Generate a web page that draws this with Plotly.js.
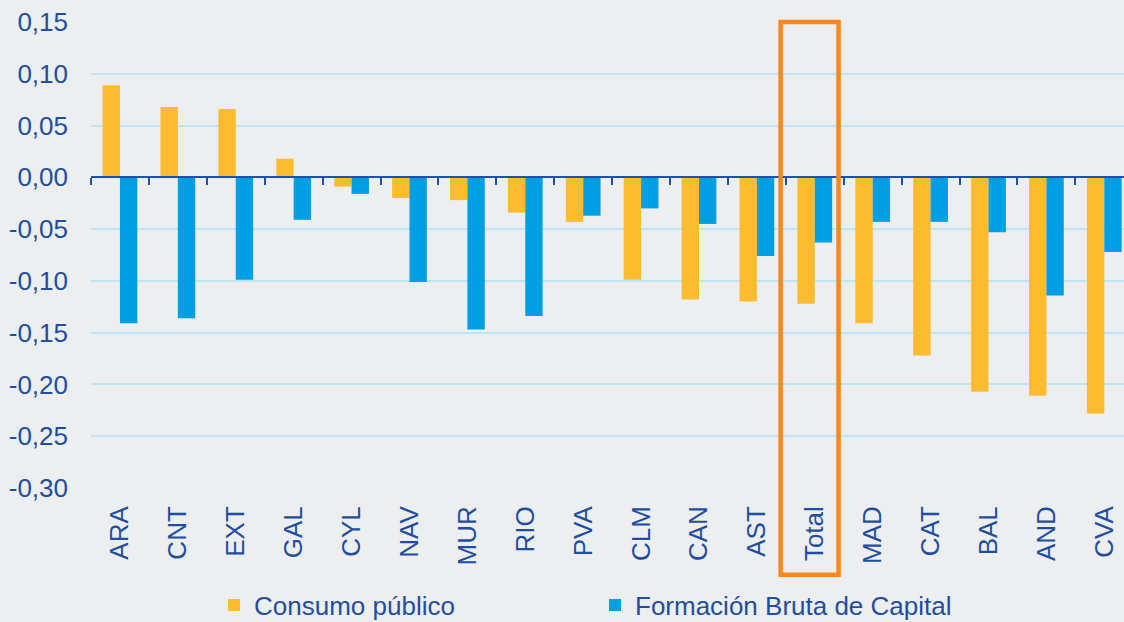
<!DOCTYPE html>
<html>
<head>
<meta charset="utf-8">
<script src="https://cdn.plot.ly/plotly-3.0.1.min.js"></script>
<style>html,body{margin:0;padding:0;background:#EDEEF0;}#chart{width:1124px;height:622px;}</style>
</head>
<body>
<div id="chart"></div>
<script>
const categories = ["ARA","CNT","EXT","GAL","CYL","NAV","MUR","RIO","PVA","CLM","CAN","AST","Total","MAD","CAT","BAL","AND","CVA"];
const consumoPublico = [0.089,0.068,0.066,0.018,-0.009,-0.020,-0.022,-0.034,-0.043,-0.099,-0.118,-0.120,-0.122,-0.141,-0.172,-0.207,-0.211,-0.228];
const formacionBrutaCapital = [-0.141,-0.136,-0.099,-0.041,-0.016,-0.101,-0.147,-0.134,-0.037,-0.030,-0.045,-0.076,-0.063,-0.043,-0.043,-0.053,-0.114,-0.072];
const seriesNames = ["Consumo público","Formación Bruta de Capital"];
const yTicks = [0.15,0.10,0.05,0.00,-0.05,-0.10,-0.15,-0.20,-0.25,-0.30];
const yTickText = yTicks.map(v => v.toFixed(2).replace(".", ","));

const textColor = "#1F4E9F";
const fontFamily = "Arial, 'Liberation Sans', sans-serif";
const fs = 26;
const xRange = [-0.5, 17.34];
const idx = categories.map((c,i)=>i);
const boundaries = categories.map((c,i)=>i-0.5).concat([categories.length-0.5]);
const totalIdx = categories.indexOf("Total");

const traces = [
  {type:"bar", name:seriesNames[0], x:categories, y:consumoPublico,
   marker:{color:"#FDBB30", line:{width:0}}, hoverinfo:"x+y"},
  {type:"bar", name:seriesNames[1], x:categories, y:formacionBrutaCapital,
   marker:{color:"#009FE3", line:{width:0}}, hoverinfo:"x+y"},
  {type:"scatter", x:idx, y:idx.map(()=>null), xaxis:"x2", yaxis:"y",
   showlegend:false, hoverinfo:"skip", mode:"markers"}
];

const layout = {
  width:1124, height:622,
  paper_bgcolor:"#EDEEF0", plot_bgcolor:"#EDEEF0",
  margin:{l:91, r:0, t:22, b:134, autoexpand:false},
  separators:",.",
  font:{family:fontFamily, color:textColor, size:fs},
  barmode:"group", bargap:0.4, bargroupgap:0,
  showlegend:true,
  legend:{orientation:"h", xref:"container", yref:"container",
          x:214/1124, xanchor:"left", y:1-605/622, yanchor:"middle",
          entrywidth:336, entrywidthmode:"pixels",
          font:{family:fontFamily, color:textColor, size:fs},
          bgcolor:"rgba(0,0,0,0)", traceorder:"normal"},
  xaxis:{type:"category", range:xRange, tickangle:-90, ticks:"",
         showgrid:false, showline:false, zeroline:false,
         tickfont:{family:fontFamily, color:textColor, size:fs},
         ticklabelstandoff:12, fixedrange:true},
  xaxis2:{type:"linear", overlaying:"x", anchor:"free", position:0.30/0.45,
          range:xRange, showline:true, linecolor:"#1E50A8", linewidth:2,
          ticks:"outside", ticklen:7, tickwidth:2, tickcolor:"#1E50A8",
          tickmode:"array", tickvals:boundaries, showticklabels:false,
          showgrid:false, zeroline:false, fixedrange:true},
  yaxis:{range:[-0.30,0.15], tickmode:"array", tickvals:yTicks, ticktext:yTickText,
         showgrid:true, gridcolor:"#BDE4F7", gridwidth:2,
         zeroline:false, showline:false, ticks:"",
         tickfont:{family:fontFamily, color:textColor, size:fs},
         ticklabelstandoff:22, fixedrange:true},
  shapes:[
    {type:"rect", xref:"x2", yref:"paper", x0:totalIdx-0.59, x1:totalIdx+0.41,
     y0:-0.186, y1:1.0, line:{color:"#F7891F", width:4.5}, fillcolor:"rgba(0,0,0,0)", layer:"above"}
  ]
};

Plotly.newPlot("chart", traces, layout, {displayModeBar:false, staticPlot:true});
</script>
</body>
</html>
